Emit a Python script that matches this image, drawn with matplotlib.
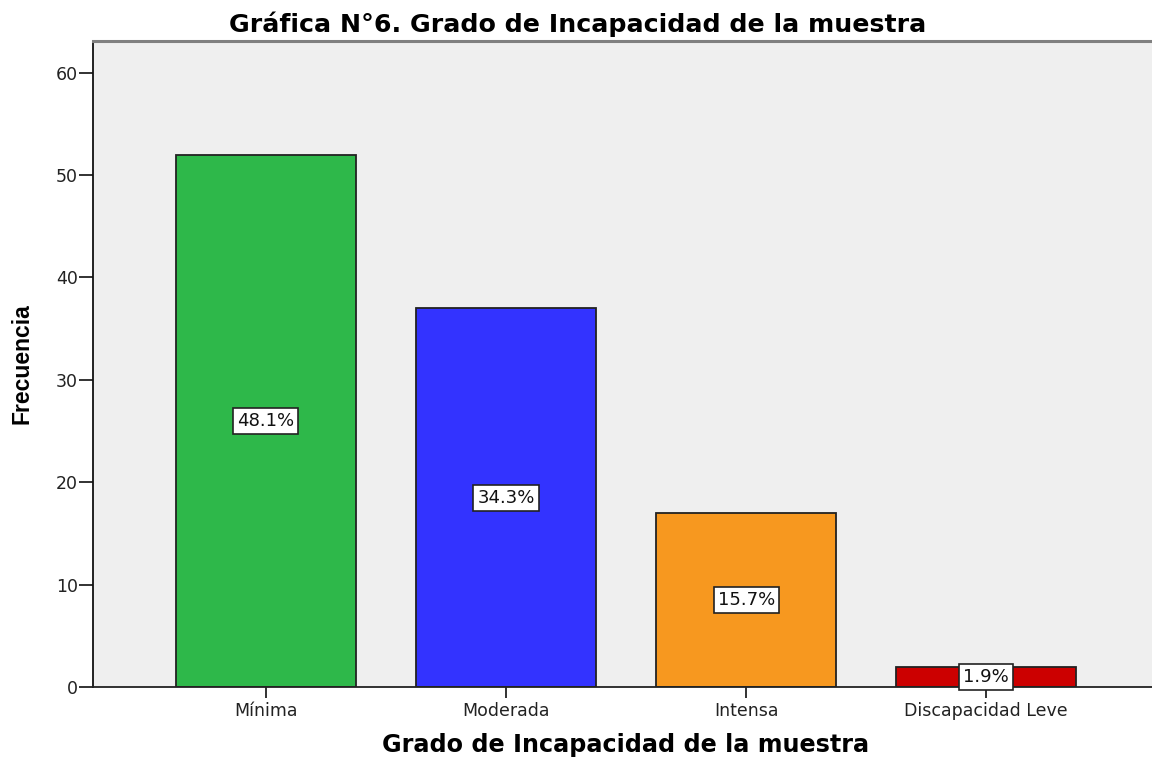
import matplotlib
matplotlib.use("Agg")
from matplotlib import pyplot as plt

categorias = ["Mínima", "Moderada", "Intensa", "Discapacidad Leve"]
frecuencias = [52, 37, 17, 2]
porcentajes = ["48.1%", "34.3%", "15.7%", "1.9%"]
colores = ["#2eb84a", "#3333ff", "#f7981f", "#cc0000"]

plt.rcParams['font.family'] = ['DejaVu Sans']

fig = plt.figure(figsize=(11.52, 7.58), dpi=100)
ax = fig.add_axes([93/1152, 71/758, 1 - 93/1152, (687-41)/758])
ax.set_facecolor("#efefef")

x = list(range(len(categorias)))
ax.bar(x, frecuencias, width=0.75, color=colores, edgecolor="#222222", linewidth=1.3, zorder=2)

# etiquetas de porcentaje en el centro de cada barra
for xi, f, p in zip(x, frecuencias, porcentajes):
    ax.text(xi, f / 2, p, ha="center", va="center", fontsize=13, color="#111111", zorder=3,
            bbox=dict(boxstyle="square,pad=0.22", fc="white", ec="#222222", lw=1.2))

ax.set_xlim(-0.72, 3.69)
ax.set_ylim(0, 63.1)
ax.set_xticks(x)
ax.set_xticklabels(categorias, fontsize=12.5, color="#222222")
ax.set_yticks([0, 10, 20, 30, 40, 50, 60])
ax.tick_params(axis="y", labelsize=12.5, length=10, width=1.3, colors="#222222", pad=1)
ax.tick_params(axis="x", length=8, width=1.3, colors="#222222", pad=3)

ax.spines["right"].set_visible(False)
ax.spines["top"].set_color("#808080")
ax.spines["top"].set_linewidth(2.2)
ax.spines["left"].set_color("#111111")
ax.spines["bottom"].set_color("#222222")
ax.spines["left"].set_linewidth(1.3)
ax.spines["bottom"].set_linewidth(1.3)

fig.text(578/1152, 1 - 24/758, "Gráfica N°6. Grado de Incapacidad de la muestra",
         ha="center", va="center", fontsize=18.2, fontweight="bold")
fig.text(626/1152, 1 - 745/758, "Grado de Incapacidad de la muestra",
         ha="center", va="center", fontsize=17.2, fontweight="bold")
fig.text(22/1152, 1 - 364/758, "Frecuencia", ha="center", va="center", rotation=90,
         fontsize=16.5, fontweight="bold", family=['Liberation Sans', 'DejaVu Sans'])

plt.savefig("out.png", dpi=100)
